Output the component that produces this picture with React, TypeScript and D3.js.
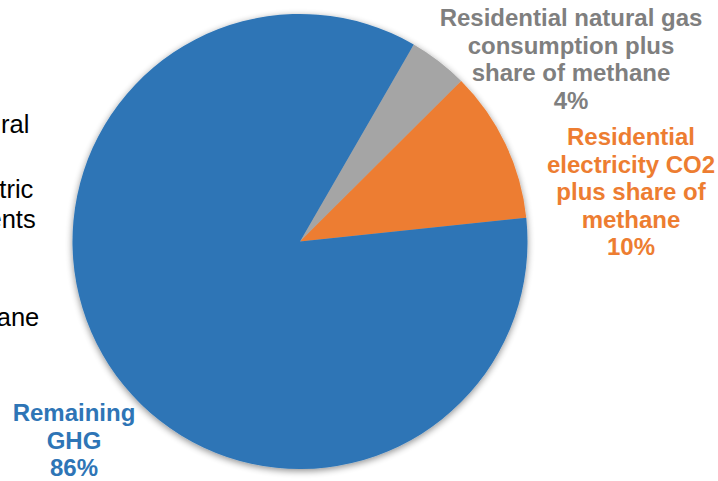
import React from "react";
import * as d3 from "d3";

const categories = [
  "Residential natural gas consumption plus share of methane",
  "Residential electricity CO2 plus share of methane",
  "Remaining GHG",
];
const values = [4.2, 10.8, 85.0];
const percentLabels = ["4%", "10%", "86%"];
const labelLines = [
  ["Residential natural gas", "consumption plus", "share of methane"],
  ["Residential", "electricity CO2", "plus share of", "methane"],
  ["Remaining", "GHG"],
];
const colors = ["#A5A5A5", "#ED7D31", "#2E75B6"];
const textColors = ["#7F7F7F", "#ED7D31", "#2E75B6"];
const legendTails = ["Residential natural", "Residential electric", "requirements", "methane"];

const W = 718;
const H = 481;
const cx = 300;
const cy = 241.5;
const R = 227.5;

const tailPos = [
  { x: 29.3, y: 132.7 },
  { x: 33.3, y: 197.5 },
  { x: 35.7, y: 228.3 },
  { x: 39.3, y: 326 },
];
const labelPos = [
  { x: 571, y: 26 },
  { x: 631, y: 145 },
  { x: 74, y: 421 },
];
const lineH = 27.5;

export default function App() {
  const pie = d3
    .pie<number>()
    .sort(null)
    .value((d) => d)
    .startAngle((30 * Math.PI) / 180)
    .endAngle((30 * Math.PI) / 180 + 2 * Math.PI);
  const arcs = pie(values);
  const arcGen = d3.arc<d3.PieArcDatum<number>>().innerRadius(0).outerRadius(R);

  return (
    <div style={{ position: "fixed", left: 0, top: 0, width: W, height: H, background: "#fff" }}>
      <svg width={W} height={H} style={{ display: "block" }} fontFamily="'Liberation Sans', Arial, sans-serif">
        <defs>
          <filter id="shadow" x="-20%" y="-20%" width="140%" height="140%">
            <feGaussianBlur in="SourceAlpha" stdDeviation="3.5" />
            <feOffset dx="0" dy="2" result="blur" />
            <feComponentTransfer>
              <feFuncA type="linear" slope="0.45" />
            </feComponentTransfer>
            <feMerge>
              <feMergeNode />
              <feMergeNode in="SourceGraphic" />
            </feMerge>
          </filter>
        </defs>
        <g transform={`translate(${cx},${cy})`} filter="url(#shadow)">
          {arcs.map((a, i) => (
            <path key={categories[i]} d={arcGen(a) || ""} fill={colors[i]} />
          ))}
        </g>
        {legendTails.map((t, i) => (
          <text key={t} x={tailPos[i].x} y={tailPos[i].y} textAnchor="end" fontSize={25.5} fill="#000">
            {t}
          </text>
        ))}
        {labelLines.map((lines, i) => (
          <text
            key={categories[i]}
            textAnchor="middle"
            fontSize={24}
            fontWeight="bold"
            fill={textColors[i]}
          >
            {[...lines, percentLabels[i]].map((ln, j) => (
              <tspan key={j} x={labelPos[i].x} y={labelPos[i].y + j * lineH}>
                {ln}
              </tspan>
            ))}
          </text>
        ))}
      </svg>
    </div>
  );
}
